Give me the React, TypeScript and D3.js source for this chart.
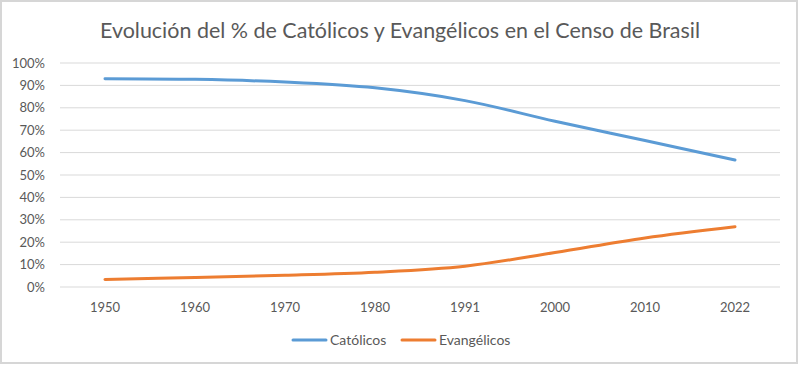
import React from "react";
import * as d3 from "d3";

const years = ["1950", "1960", "1970", "1980", "1991", "2000", "2010", "2022"];
const catolicos = [93.0, 92.7, 91.5, 88.9, 83.2, 74.0, 65.4, 56.7];
const evangelicos = [3.4, 4.2, 5.2, 6.6, 9.3, 15.4, 21.9, 26.9];
const yTicks = [0, 10, 20, 30, 40, 50, 60, 70, 80, 90, 100];
const seriesNames = ["Católicos", "Evangélicos"];
const colors = ["#5B9BD5", "#ED7D31"];
const title = "Evolución del % de Católicos y Evangélicos en el Censo de Brasil";

const W = 799, H = 365;
const FONT = "Lato, 'Open Sans', sans-serif";

export default function App() {
  const x = d3.scaleBand<string>().domain(years).range([60, 780]);
  const y = d3.scaleLinear().domain([0, 100]).range([287, 63]);
  const line = d3
    .line<number>()
    .x((_, i) => (x(years[i]) as number) + x.bandwidth() / 2)
    .y((d) => y(d))
    .curve(d3.curveCatmullRom.alpha(0.5));
  const series = [catolicos, evangelicos];
  const legendX = [293, 402];
  return (
    <svg width={W} height={H} style={{ position: "absolute", left: 0, top: 0 }} fontFamily={FONT}>
      <rect x={0} y={0} width={W} height={H} fill="#fff" />
      <rect x={1} y={1} width={W - 3} height={H - 3} fill="none" stroke="#d6d6d6" strokeWidth={2} />
      <text x={400} y={38} textAnchor="middle" fontSize={22} fill="#595959" textLength={600} lengthAdjust="spacingAndGlyphs">
        {title}
      </text>
      {yTicks.map((t) => (
        <g key={t}>
          <line x1={60} x2={780} y1={y(t)} y2={y(t)} stroke="#D9D9D9" strokeWidth={1} />
          <text x={45} y={y(t)} dy="0.35em" textAnchor="end" fontSize={13} fill="#595959">
            {t}%
          </text>
        </g>
      ))}
      {years.map((yr) => (
        <text key={yr} x={(x(yr) as number) + x.bandwidth() / 2} y={307} dy="0.35em" textAnchor="middle" fontSize={13} fill="#595959">
          {yr}
        </text>
      ))}
      {series.map((s, i) => (
        <path key={i} d={line(s) || ""} fill="none" stroke={colors[i]} strokeWidth={3} strokeLinecap="round" />
      ))}
      {seriesNames.map((n, i) => (
        <g key={n}>
          <line x1={legendX[i]} x2={legendX[i] + 33} y1={340} y2={340} stroke={colors[i]} strokeWidth={3} strokeLinecap="round" />
          <text x={legendX[i] + 37} y={340} dy="0.35em" fontSize={14} fill="#595959">
            {n}
          </text>
        </g>
      ))}
    </svg>
  );
}
